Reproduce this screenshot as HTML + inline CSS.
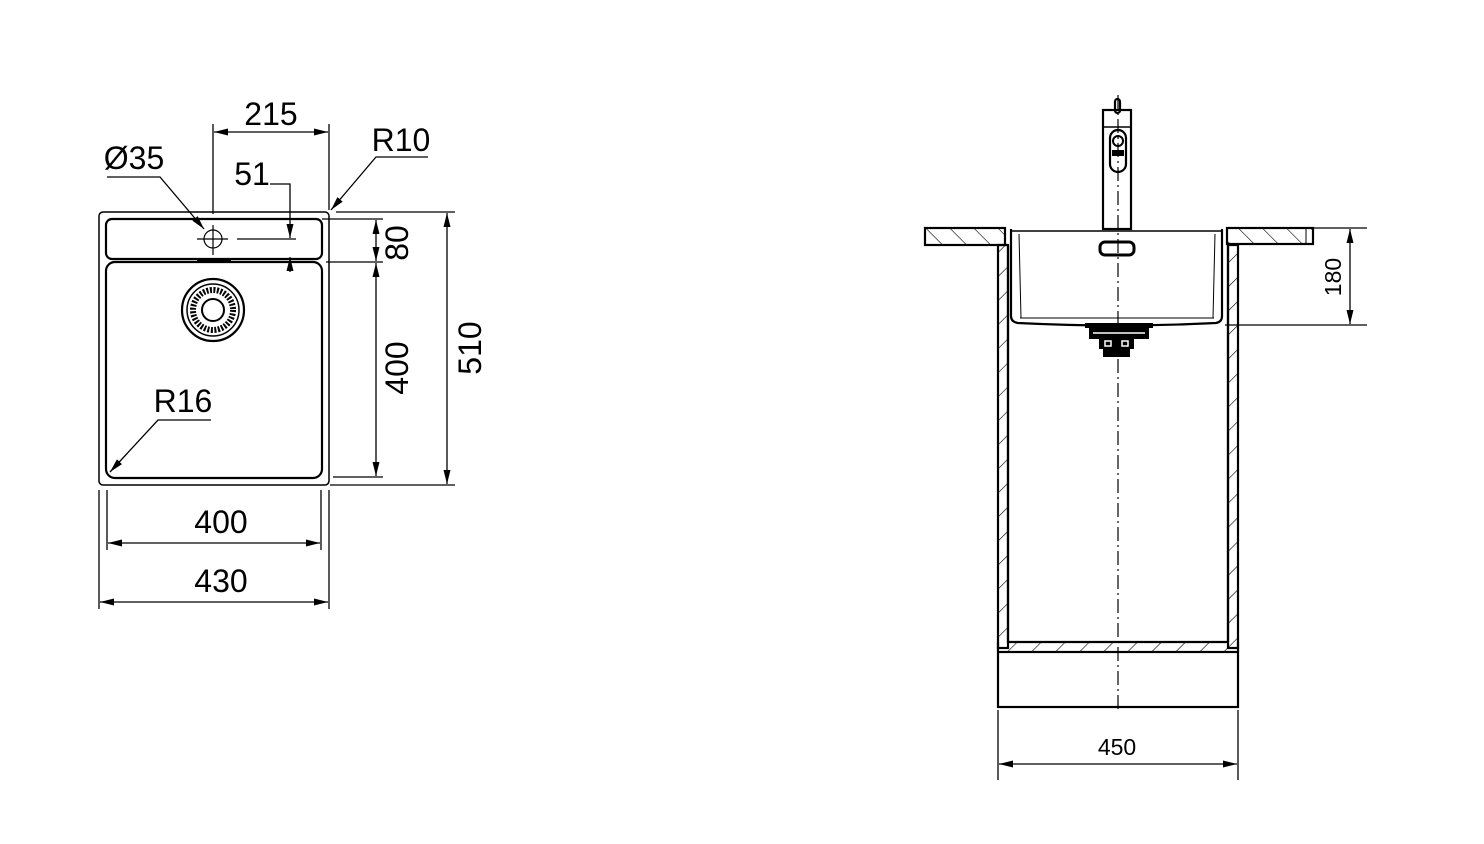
<!DOCTYPE html>
<html><head><meta charset="utf-8"><style>html,body{margin:0;padding:0;background:#fff}svg{display:block}</style></head><body>
<svg width="1484" height="844" viewBox="0 0 1484 844" xmlns="http://www.w3.org/2000/svg" font-family="Liberation Sans, sans-serif">
<defs>
<marker id="a" viewBox="0 0 14 7" refX="14" refY="3.5" markerWidth="14" markerHeight="7" markerUnits="userSpaceOnUse" orient="auto-start-reverse"><path d="M0,0 L14,3.5 L0,7z" fill="#000"/></marker>
<pattern id="h" width="17" height="17" patternUnits="userSpaceOnUse" patternTransform="rotate(-45)"><line x1="0" y1="0" x2="0" y2="17" stroke="#000" stroke-width="1.2"/></pattern>
<pattern id="h2" width="17" height="17" patternUnits="userSpaceOnUse" patternTransform="rotate(45)"><line x1="0" y1="0" x2="0" y2="17" stroke="#000" stroke-width="1.2"/></pattern>
</defs>
<g fill="none" stroke="#000">
<rect x="99" y="212" width="230" height="273" rx="4" stroke-width="1.5"/>
<rect x="106" y="219" width="216" height="40" rx="6" stroke-width="2.2"/>
<rect x="106" y="262" width="216" height="216" rx="9" stroke-width="2.2"/>
<line x1="197" y1="261" x2="231" y2="261" stroke-width="3"/>
<circle cx="213" cy="310" r="31" stroke-width="2.2"/>
<circle cx="213" cy="310" r="26" stroke-width="1.5"/>
<circle cx="213" cy="310" r="20" stroke-width="6" stroke-dasharray="2 1.5"/>
<circle cx="213" cy="310" r="11" stroke-width="2"/>
<circle cx="213" cy="239" r="9" stroke-width="1.2"/>
<line x1="197" y1="239" x2="228" y2="239" stroke-width="1.2"/>
<line x1="213" y1="225" x2="213" y2="255" stroke-width="1.2"/>
<line x1="237" y1="239" x2="296" y2="239" stroke-width="1.2"/>
<g stroke-width="1.3">
<line x1="213" y1="124" x2="213" y2="214"/><line x1="329" y1="124" x2="329" y2="210"/>
<line x1="214" y1="132" x2="328" y2="132" marker-start="url(#a)" marker-end="url(#a)"/>
<path d="M270,184 H290 V238" marker-end="url(#a)"/><line x1="290" y1="272" x2="290" y2="257" marker-end="url(#a)"/>
<path d="M428,157 H376 L331,210" marker-end="url(#a)"/>
<path d="M107,177 H160 L204,229" marker-end="url(#a)"/>
<path d="M211,420 H158 L110,472" marker-end="url(#a)"/>
<line x1="322" y1="219" x2="383" y2="219"/><line x1="326" y1="262" x2="383" y2="262"/>
<line x1="376" y1="220" x2="376" y2="261" marker-start="url(#a)" marker-end="url(#a)"/>
<line x1="376" y1="263" x2="376" y2="476" marker-start="url(#a)" marker-end="url(#a)"/>
<line x1="333" y1="477" x2="383" y2="477"/>
<line x1="336" y1="212" x2="455" y2="212"/><line x1="330" y1="485" x2="455" y2="485"/>
<line x1="447" y1="213" x2="447" y2="484" marker-start="url(#a)" marker-end="url(#a)"/>
<line x1="107" y1="490" x2="107" y2="550"/><line x1="321" y1="490" x2="321" y2="550"/>
<line x1="108" y1="543" x2="320" y2="543" marker-start="url(#a)" marker-end="url(#a)"/>
<line x1="99" y1="490" x2="99" y2="609"/><line x1="329" y1="490" x2="329" y2="609"/>
<line x1="100" y1="602" x2="328" y2="602" marker-start="url(#a)" marker-end="url(#a)"/>
</g>
<rect x="925" y="228" width="80" height="17" fill="url(#h)" stroke-width="2.2"/>
<rect x="1227" y="228" width="86" height="16" fill="url(#h)" stroke-width="2.2"/>
<line x1="1306" y1="228" x2="1306" y2="244"/>
<rect x="998" y="245" width="10" height="403" fill="url(#h2)" stroke-width="2.2"/>
<rect x="1228" y="245" width="10" height="403" fill="url(#h2)" stroke-width="2.2"/>
<rect x="1008" y="642" width="220" height="10" fill="url(#h2)" stroke-width="0"/>
<path d="M1008,245 V642 H1228 V245" stroke-width="2.2"/>
<rect x="998" y="652" width="240" height="55" stroke-width="2.2"/>
<line x1="998" y1="642" x2="998" y2="652" stroke-width="2.2"/><line x1="1238" y1="642" x2="1238" y2="652" stroke-width="2.2"/>
<path d="M1011,229 V316 Q1011,322 1018,323 Q1118,328 1216,323 Q1222,322 1222,316 V229" stroke-width="2.2"/>
<line x1="1011" y1="231" x2="1222" y2="231" stroke-width="1.5"/>
<line x1="1019" y1="234" x2="1021" y2="318" stroke-width="1"/><line x1="1215" y1="234" x2="1213" y2="318" stroke-width="1"/>
<line x1="1020" y1="318" x2="1214" y2="318" stroke-width="1"/>
<rect x="1100" y="242" width="34" height="13" rx="5" stroke-width="3"/>
<rect x="1103" y="110" width="28" height="119" stroke-width="2.2"/>
<line x1="1103" y1="127" x2="1131" y2="127" stroke-width="1.5"/>
<rect x="1110" y="130" width="16" height="42" rx="8" stroke-width="2.2"/>
<circle cx="1118" cy="141" r="5" stroke-width="2"/>
<rect x="1112" y="150" width="12" height="6" fill="#000" stroke="none"/>
<rect x="1115" y="99" width="5" height="14" rx="2.5" stroke-width="2.2"/>
<g fill="#000" stroke="none">
<rect x="1085" y="323" width="68" height="5"/>
<rect x="1089" y="328" width="60" height="11"/>
<rect x="1099" y="339" width="35" height="10"/>
<rect x="1103" y="349" width="27" height="8"/>
</g>
<g stroke="#fff" stroke-width="1.5"><line x1="1093" y1="333" x2="1145" y2="333"/><rect x="1105" y="341" width="6" height="5"/><rect x="1122" y="341" width="6" height="5"/></g>
<line x1="1118" y1="95" x2="1118" y2="712" stroke-width="1.2" stroke-dasharray="14 4 2 4"/>
<g stroke-width="1.3">
<line x1="1313" y1="228" x2="1367" y2="228"/><line x1="1225" y1="325" x2="1367" y2="325"/>
<line x1="1350" y1="229" x2="1350" y2="324" marker-start="url(#a)" marker-end="url(#a)"/>
<line x1="998" y1="710" x2="998" y2="780"/><line x1="1238" y1="710" x2="1238" y2="780"/>
<line x1="999" y1="764" x2="1237" y2="764" marker-start="url(#a)" marker-end="url(#a)"/>
</g>
</g>
<g fill="#000" font-size="32" text-anchor="middle">
<text x="271" y="125">215</text>
<text x="401" y="151">R10</text>
<text x="134" y="169">Ø35</text>
<text x="252" y="185">51</text>
<text x="183" y="412">R16</text>
<text x="221" y="533">400</text>
<text x="221" y="592">430</text>
<text transform="translate(408,243) rotate(-90)">80</text>
<text transform="translate(408,368) rotate(-90)">400</text>
<text transform="translate(481,348) rotate(-90)">510</text>
<text x="1117" y="755" font-size="23">450</text>
<text transform="translate(1341,277) rotate(-90)" font-size="23">180</text>
</g>
</svg>
</body></html>
